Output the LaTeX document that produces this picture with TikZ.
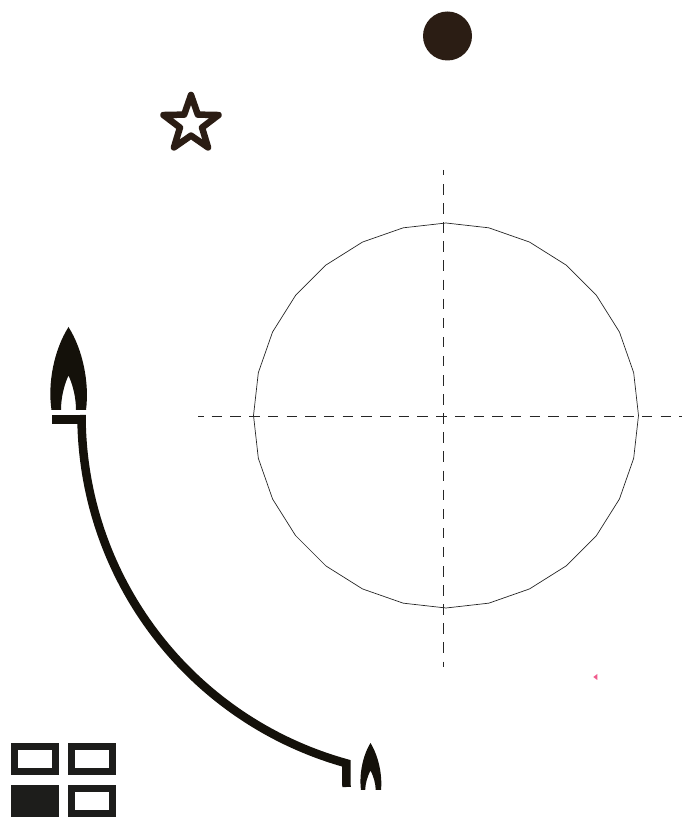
\documentclass[tikz,border=0pt]{standalone}
\usepackage{tikz}
\definecolor{FlameBlack} {RGB}{20,  17,  10}
\definecolor{GridBlack}  {RGB}{29,  29,  27}
\definecolor{DarkBrown}  {RGB}{43,  29,  20}
\definecolor{MarkerPink} {RGB}{240, 90, 140}
\usetikzlibrary{
  shapes.geometric,
  positioning
}

\begin{document}
\begin{tikzpicture}[
  x=1pt, y=1pt,
  cell/.style={
    draw=GridBlack, line width=7pt,
    inner sep=0pt,
    minimum width=41.3pt,
    minimum height=24.7pt
  },
  axis/.style={
    draw=black!85, line width=0.9pt
  },
  rail/.style={
    draw=FlameBlack, line width=8.5pt
  },
  railend/.style={
    draw=FlameBlack, line width=9pt
  }
]

\useasboundingbox (0,0) rectangle (681,818);

% top marks
\node[circle, fill=DarkBrown, inner sep=0pt,
  minimum size=49pt] (sun) at (447.5,782) {};
\node[star, star points=5, star point ratio=2.5,
  draw=DarkBrown, line width=6.5pt, line join=round,
  inner sep=0pt, minimum size=58pt] (mark) at (191,694) {};

% orbit and axes
\node[regular polygon, regular polygon sides=28,
  regular polygon rotate=6.43,
  draw=black!85, line width=0.7pt, inner sep=0pt,
  minimum size=385pt] (orbit) at (446,402.5) {};

\coordinate (vtop)   at (443,648);
\coordinate (vbot)   at (443,151);
\coordinate (hleft)  at (198,402);
\coordinate (hright) at (682,402);
\draw[axis, dash pattern=on 10.5pt off 8.6pt, dash phase=5pt] (vtop) -- (vbot);
\draw[axis, dash pattern=on 10.5pt off 8.2pt, dash phase=5pt] (hleft) -- (hright);

% big flame
\fill[FlameBlack] (51.5,408)
  .. controls (47.5,435) and (54,468) .. (68.5,491)
  .. controls (83,468) and (89.5,435) .. (86,408)
  -- (76,408)
  .. controls (76,420) and (73,433) .. (68.5,442.5)
  .. controls (64,433) and (61,420) .. (61,408)
  -- cycle;

% small flame
\fill[FlameBlack] (361,28)
  .. controls (359,43) and (362.5,62) .. (370.5,75)
  .. controls (378.5,62) and (382.5,43) .. (381,28)
  -- (375.7,28)
  .. controls (375.7,34) and (373.5,42) .. (370.5,47.5)
  .. controls (367.5,42) and (365.2,34) .. (365.2,28)
  -- cycle;

% rail between flames
\coordinate (railtop) at (81.5,403);
\coordinate (lipleft) at (52,398.5);
\coordinate (lipright) at (85,398.5);
\coordinate (footdown) at (346.5,31);
\draw[railend] (lipleft) -- (lipright);
\draw[rail] (railtop) arc[start angle=180, end angle=254.5, radius=361.5pt]
  -- (footdown);

% grid
\node[cell] (c1) at (35.2,58.8) {};
\node[cell] (c2) at (91.8,58.8) {};
\node[cell, fill=GridBlack] (c3) at (35.2,17) {};
\node[cell] (c4) at (91.8,17) {};

% marker
\fill[MarkerPink] (593.3,141) -- (597.3,144) -- (597.3,138) -- cycle;

\end{tikzpicture}
\end{document}
